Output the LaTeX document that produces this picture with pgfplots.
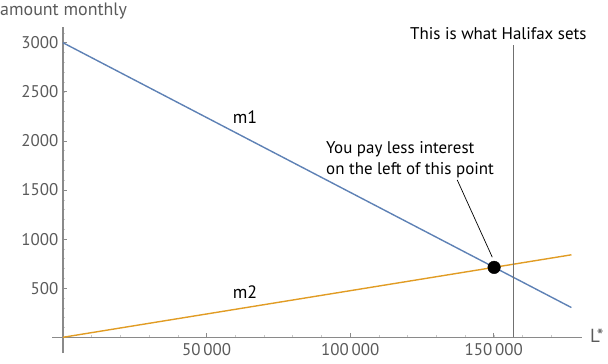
\documentclass[border=0pt]{standalone}
\usepackage{fontspec}
\setmainfont{PT Sans}
\usepackage{pgfplots}
\pgfplotsset{compat=1.18}
\definecolor{mblue}{HTML}{5E81B5}
\definecolor{morange}{HTML}{E19C24}
\definecolor{axgray}{HTML}{8A8A8A}
\definecolor{vgray}{HTML}{707070}
\definecolor{lblgray}{HTML}{5A5A5A}
\definecolor{mingray}{HTML}{C8C8C8}
\begin{document}
\begin{tikzpicture}[x=1bp,y=1bp]
\useasboundingbox (0,0) rectangle (608,363);
\begin{axis}[
  at={(52bp,10bp)}, anchor=south west,
  scale only axis, width=530bp, height=326bp,
  xmin=-3800, xmax=180700, ymin=-160, ymax=3160,
  axis lines=middle,
  axis line style={axgray, line width=1.2bp, -},
  xtick={50000,100000,150000},
  xticklabels={50\thinspace000,100\thinspace000,150\thinspace000},
  minor xtick={10000,20000,...,170000},
  ytick={500,1000,1500,2000,2500,3000},
  yticklabels={500,1000,1500,2000,2500,3000},
  minor ytick={100,200,...,3100},
  major tick style={axgray, line width=0.8bp},
  minor tick style={mingray, line width=0.6bp},
  major tick length=4bp, minor tick length=2.5bp,
  tick align=inside,
  ticklabel style={font=\fontsize{17}{20}\selectfont, text=lblgray},
  yticklabel style={anchor=east, xshift=-1bp},
  xticklabel style={anchor=north, yshift=-2.5bp},
  clip=false,
]
\addplot[mblue, line width=1.4bp] coordinates {(0,3000) (177000,303)};
\addplot[morange, line width=1.4bp] coordinates {(0,0) (177000,840)};
\addplot[vgray, line width=1.7bp] coordinates {(156800,0) (156800,2980)};
\draw[black, line width=0.7bp] (axis cs:137270,1602) -- (axis cs:149460,816);
\addplot[only marks, mark=*, mark size=6.3bp, black] coordinates {(150100,712)};
\end{axis}
\node[anchor=base west, inner sep=0, font=\fontsize{18}{20}\selectfont, text=lblgray] at (0,347.3) {amount monthly};
\node[anchor=base west, inner sep=0, font=\fontsize{19}{20}\selectfont, text=lblgray] at (590,20.3) {L*};
\node[anchor=base west, inner sep=0, font=\fontsize{17}{20}\selectfont] at (410,323.7) {This is what Halifax sets};
\node[anchor=base west, inner sep=0, font=\fontsize{17}{20}\selectfont] at (326,210) {You pay less interest};
\node[anchor=base west, inner sep=0, font=\fontsize{17}{20}\selectfont] at (326,189) {on the left of this point};
\node[anchor=base, inner sep=0, font=\fontsize{18}{20}\selectfont] at (245,239.7) {m1};
\node[anchor=base, inner sep=0, font=\fontsize{18}{20}\selectfont] at (245,64.7) {m2};
\end{tikzpicture}
\end{document}
